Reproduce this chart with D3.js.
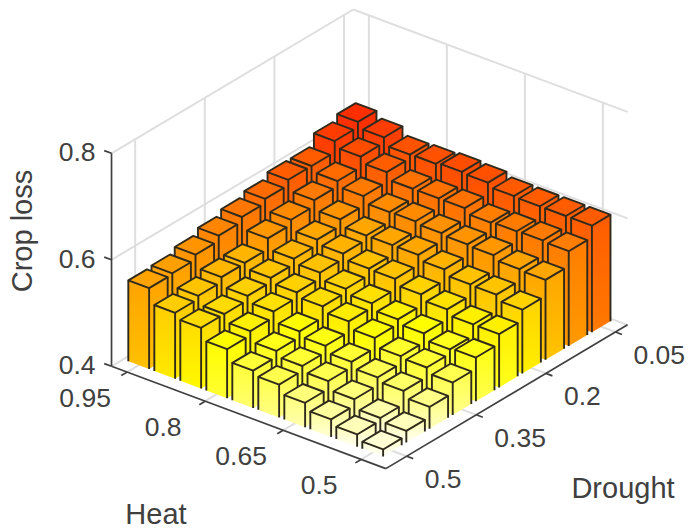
<!DOCTYPE html>
<html>
<head>
<meta charset="utf-8">
<script src="https://cdn.jsdelivr.net/npm/d3@7"></script>
<style>
  html, body { margin: 0; padding: 0; background: #fff; }
  text { font-family: "Liberation Sans", Arial, sans-serif; fill: #404040; }
</style>
</head>
<body>
<svg id="chart" width="689" height="529"></svg>
<script>
// categories, front to back as MATLAB bar3 lays them out
var heat = [0.95, 0.9, 0.85, 0.8, 0.75, 0.7, 0.65, 0.6, 0.55, 0.5];
var drought = [0.05, 0.1, 0.15, 0.2, 0.25, 0.3, 0.35, 0.4, 0.45, 0.5];

var heatTicks = [0.95, 0.8, 0.65, 0.5];
var droughtTicks = [0.05, 0.2, 0.35, 0.5];
var lossTicks = [0.4, 0.6, 0.8];

// crop loss per drought level, values in the order of heat
var lossD05 = [0.631, 0.620, 0.606, 0.607, 0.610, 0.608, 0.601, 0.600, 0.600, 0.600];
var lossD10 = [0.621, 0.610, 0.599, 0.586, 0.586, 0.586, 0.577, 0.579, 0.580, 0.578];
var lossD15 = [0.600, 0.590, 0.580, 0.568, 0.569, 0.565, 0.562, 0.560, 0.552, 0.550];
var lossD20 = [0.600, 0.580, 0.562, 0.550, 0.550, 0.550, 0.541, 0.531, 0.530, 0.520];
var lossD25 = [0.590, 0.569, 0.550, 0.542, 0.532, 0.531, 0.520, 0.510, 0.500, 0.500];
var lossD30 = [0.582, 0.560, 0.540, 0.532, 0.520, 0.511, 0.499, 0.491, 0.479, 0.482];
var lossD35 = [0.573, 0.540, 0.530, 0.521, 0.513, 0.503, 0.490, 0.474, 0.471, 0.461];
var lossD40 = [0.563, 0.539, 0.522, 0.511, 0.492, 0.483, 0.471, 0.460, 0.453, 0.441];
var lossD45 = [0.554, 0.530, 0.514, 0.500, 0.481, 0.471, 0.461, 0.445, 0.428, 0.422];
var lossD50 = [0.552, 0.524, 0.514, 0.492, 0.470, 0.462, 0.446, 0.433, 0.423, 0.413];
var lossRows = [lossD05, lossD10, lossD15, lossD20, lossD25, lossD30, lossD35, lossD40, lossD45, lossD50];

var svg = d3.select("#chart");

// oblique projection of the 3d box, u = heat index, v = drought index
var uOf = d3.scaleLinear().domain([0.95, 0.5]).range([0, 9]);
var vOf = d3.scaleLinear().domain([0.05, 0.5]).range([0, 9]);
var xU = d3.scaleLinear().domain([0, 9]).range([0, 234]);
var yU = d3.scaleLinear().domain([0, 9]).range([0, 87.3]);
var xV = d3.scaleLinear().domain([0, 9]).range([0, -208.8]);
var yV = d3.scaleLinear().domain([0, 9]).range([0, 124.2]);
var zPx = d3.scaleLinear().domain([0.4, 0.8]).range([0, -213]);
var ox = 356.8, oy = 235.5;
var uMin = -0.6, uMax = 9.95, vMin = -0.52, vMax = 9.9;

function proj(u, v, z) {
  return [ox + xU(u) + xV(v), oy + yU(u) + yV(v) + zPx(z)];
}
function poly(pts) {
  return "M" + pts.map(function(p) { return p[0] + "," + p[1]; }).join("L") + "Z";
}
function seg(a, b) {
  return "M" + a[0] + "," + a[1] + "L" + b[0] + "," + b[1];
}

var color = d3.scaleLinear()
  .domain([0.40, 0.49, 0.60, 0.63])
  .range(["#fffff8", "#ffff00", "#ff5c00", "#ff2e00"])
  .clamp(true);

// walls and floor grid
var gridColor = "#dedede";
var grid = svg.append("g")
  .attr("fill", "none")
  .attr("stroke", gridColor)
  .attr("stroke-width", 2);

lossTicks.forEach(function(z) {
  grid.append("path").attr("d", seg(proj(uMin, vMax, z), proj(uMin, vMin, z)));
  grid.append("path").attr("d", seg(proj(uMin, vMin, z), proj(uMax, vMin, z)));
});
droughtTicks.forEach(function(d) {
  var v = vOf(d);
  grid.append("path").attr("d", seg(proj(uMin, v - 0.12, 0.4), proj(uMin, v - 0.12, 0.8)));
  grid.append("path").attr("d", seg(proj(uMin, v, 0.4), proj(uMax, v, 0.4)));
});
heatTicks.forEach(function(h) {
  var u = uOf(h);
  grid.append("path").attr("d", seg(proj(u, vMin, 0.4), proj(u, vMin, 0.8)));
  grid.append("path").attr("d", seg(proj(u, vMin, 0.4), proj(u, vMax, 0.4)));
});

// bars, painted back to front
var cells = [];
lossRows.forEach(function(row, j) {
  row.forEach(function(val, i) {
    cells.push({ heat: heat[i], drought: drought[j], val: val, key: "g" + i + "_" + j });
  });
});
cells.sort(function(a, b) {
  return (uOf(a.heat) + vOf(a.drought)) - (uOf(b.heat) + vOf(b.drought));
});

var defs = svg.append("defs");
var w = 0.4;
var edge = "#2f2a1c";

var bar = svg.append("g").selectAll("g")
  .data(cells)
  .join("g");

bar.each(function(d) {
  var u = uOf(d.heat), v = vOf(d.drought), g = d3.select(this);
  var lb = proj(u - w, v + w, 0.4), fb = proj(u + w, v + w, 0.4), rb = proj(u + w, v - w, 0.4);
  var lt = proj(u - w, v + w, d.val), ft = proj(u + w, v + w, d.val), rt = proj(u + w, v - w, d.val);
  var bt = proj(u - w, v - w, d.val);

  var grad = defs.append("linearGradient")
    .attr("id", d.key)
    .attr("gradientUnits", "userSpaceOnUse")
    .attr("x1", 0).attr("x2", 0)
    .attr("y1", lt[1]).attr("y2", fb[1]);
  grad.append("stop").attr("offset", 0).attr("stop-color", color(d.val));
  grad.append("stop").attr("offset", 1).attr("stop-color", color(d.val - 0.02));

  g.append("path").attr("d", poly([lt, ft, fb, lb])).style("fill", "url(#" + d.key + ")");
  g.append("path").attr("d", poly([ft, rt, rb, fb])).style("fill", "url(#" + d.key + ")");
  g.append("path")
    .attr("d", seg(lt, lb) + seg(ft, fb) + seg(rt, rb))
    .style("fill", "none")
    .style("stroke", edge)
    .style("stroke-width", 1.9);
  g.append("path")
    .attr("d", poly([lt, ft, rt, bt]))
    .style("fill", color(d.val))
    .style("stroke", edge)
    .style("stroke-width", 1.9)
    .style("stroke-linejoin", "round");
});

// axes
var axisColor = "#404040";
var axes = svg.append("g")
  .attr("fill", "none")
  .attr("stroke", axisColor)
  .attr("stroke-width", 1.7);

axes.append("path").attr("d", seg(proj(uMin, vMax, 0.4), proj(uMin, vMax, 0.8)));
axes.append("path").attr("d", seg(proj(uMin, vMax, 0.4), proj(uMax, vMax, 0.4)));
axes.append("path").attr("d", seg(proj(uMax, vMax, 0.4), proj(uMax, vMin, 0.4)));

lossTicks.forEach(function(z) {
  axes.append("path").attr("d", seg(proj(uMin, vMax, z), proj(uMin - 0.28, vMax, z)));
  var p = proj(uMin, vMax, z);
  svg.append("text")
    .attr("x", p[0] - 16)
    .attr("y", p[1] + 8)
    .attr("text-anchor", "end")
    .style("font-size", "26.5px")
    .text(z.toFixed(1));
});
heatTicks.forEach(function(h) {
  var u = uOf(h);
  axes.append("path").attr("d", seg(proj(u, vMax, 0.4), proj(u, vMax + 0.25, 0.4)));
  var p = proj(u, vMax, 0.4);
  svg.append("text")
    .attr("x", p[0] - 42)
    .attr("y", p[1] + 35)
    .attr("text-anchor", "middle")
    .style("font-size", "26.5px")
    .text(h);
});
droughtTicks.forEach(function(d) {
  var v = vOf(d);
  axes.append("path").attr("d", seg(proj(uMax, v, 0.4), proj(uMax + 0.25, v, 0.4)));
  var p = proj(uMax, v, 0.4);
  svg.append("text")
    .attr("x", p[0] + 18)
    .attr("y", p[1] + 32)
    .attr("text-anchor", "start")
    .style("font-size", "26.5px")
    .text(d);
});

svg.append("text")
  .attr("transform", "translate(32,231) rotate(-90)")
  .attr("text-anchor", "middle")
  .style("font-size", "29px")
  .text("Crop loss");
svg.append("text")
  .attr("x", 623).attr("y", 498)
  .attr("text-anchor", "middle")
  .style("font-size", "29px")
  .text("Drought");
svg.append("text")
  .attr("x", 156).attr("y", 524)
  .attr("text-anchor", "middle")
  .style("font-size", "29px")
  .text("Heat");
</script>
</body>
</html>
